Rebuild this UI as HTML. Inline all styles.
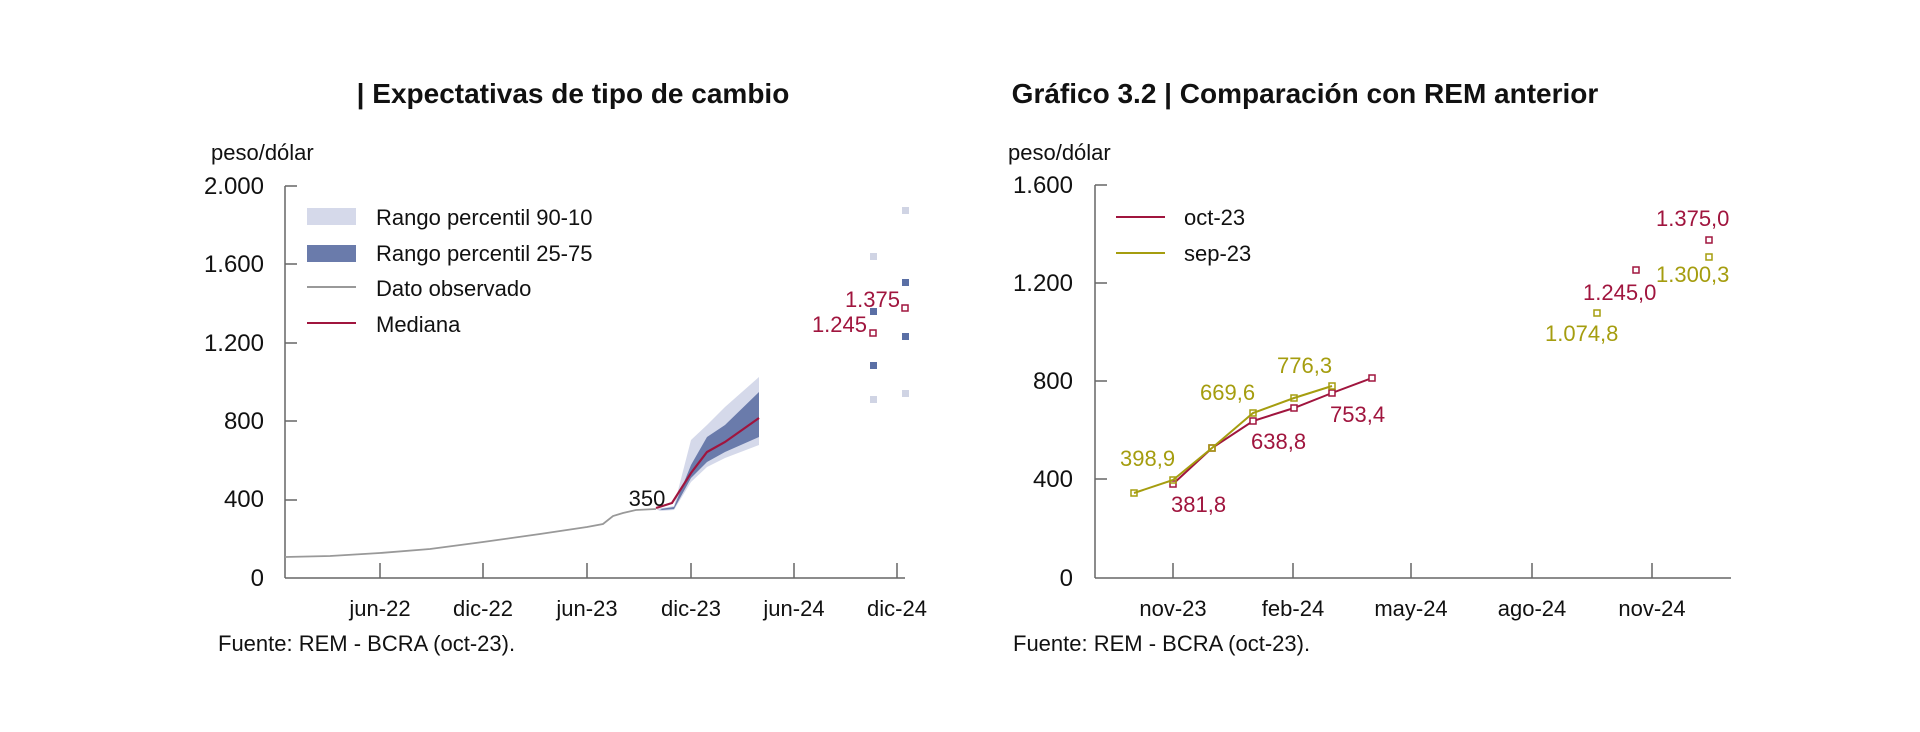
<!DOCTYPE html>
<html><head><meta charset="utf-8"><style>
html,body{margin:0;padding:0;background:#fff;}
svg{display:block;font-family:"Liberation Sans Narrow","Liberation Sans",sans-serif;}
</style></head><body>
<svg width="1920" height="732" viewBox="0 0 1920 732" xmlns="http://www.w3.org/2000/svg">
<rect width="1920" height="732" fill="#fff"/>
<!-- Titles -->
<text x="573" y="103" font-size="28" font-weight="bold" text-anchor="middle" fill="#111">| Expectativas de tipo de cambio</text>
<text x="1305" y="103" font-size="28" font-weight="bold" text-anchor="middle" fill="#111">Gráfico 3.2 | Comparación con REM anterior</text>

<!-- LEFT CHART -->
<text x="211" y="160" font-size="22" fill="#111">peso/dólar</text>
<g font-size="24" fill="#111" text-anchor="end">
<text x="264" y="194">2.000</text>
<text x="264" y="272">1.600</text>
<text x="264" y="351">1.200</text>
<text x="264" y="429">800</text>
<text x="264" y="507">400</text>
<text x="264" y="586">0</text>
</g>
<g stroke="#666" stroke-width="1.5" fill="none">
<line x1="285" y1="186" x2="285" y2="578"/>
<line x1="285" y1="578" x2="905" y2="578"/>
<line x1="285" y1="186" x2="297" y2="186"/>
<line x1="285" y1="264" x2="297" y2="264"/>
<line x1="285" y1="343" x2="297" y2="343"/>
<line x1="285" y1="421" x2="297" y2="421"/>
<line x1="285" y1="500" x2="297" y2="500"/>
<line x1="380" y1="563" x2="380" y2="578"/>
<line x1="483" y1="563" x2="483" y2="578"/>
<line x1="587" y1="563" x2="587" y2="578"/>
<line x1="691" y1="563" x2="691" y2="578"/>
<line x1="794" y1="563" x2="794" y2="578"/>
<line x1="897" y1="563" x2="897" y2="578"/>
</g>
<g font-size="22" fill="#111" text-anchor="middle">
<text x="380" y="616">jun-22</text>
<text x="483" y="616">dic-22</text>
<text x="587" y="616">jun-23</text>
<text x="691" y="616">dic-23</text>
<text x="794" y="616">jun-24</text>
<text x="897" y="616">dic-24</text>
</g>
<text x="218" y="651" font-size="22" fill="#111">Fuente: REM - BCRA (oct-23).</text>

<!-- legend -->
<rect x="307" y="208" width="49" height="17" fill="#d5d9ea"/>
<rect x="307" y="245" width="49" height="17" fill="#6a7bab"/>
<line x1="307" y1="287" x2="356" y2="287" stroke="#999" stroke-width="2"/>
<line x1="307" y1="323" x2="356" y2="323" stroke="#a0153e" stroke-width="2"/>
<g font-size="22" fill="#111">
<text x="376" y="225">Rango percentil 90-10</text>
<text x="376" y="261">Rango percentil 25-75</text>
<text x="376" y="296">Dato observado</text>
<text x="376" y="332">Mediana</text>
</g>

<!-- bands -->
<polygon points="656,509 674,506 691,440 707,425 725,407 759,377 759,445 725,458 707,467 691,482 674,510 660,511" fill="#d5d9ea"/>
<polygon points="660,509 674,507 691,465 707,437 725,425 759,392 759,437 725,452 707,462 691,478 674,509 662,510" fill="#6a7bab"/>
<polyline points="285,557 330,556 380,553 430,549 483,542 540,534 587,527 603,524 613,516 623,513 636,510 656,509" fill="none" stroke="#999" stroke-width="1.8"/>
<polyline points="656,508 672,503 691,473 707,452 725,442 759,418" fill="none" stroke="#a0153e" stroke-width="2.2"/>
<text x="647" y="506" font-size="22" text-anchor="middle" fill="#111">350</text>

<!-- right-side points -->
<g fill="#d0d4e4">
<rect x="870" y="253" width="7" height="7"/>
<rect x="870" y="396" width="7" height="7"/>
<rect x="902" y="207" width="7" height="7"/>
<rect x="902" y="390" width="7" height="7"/>
</g>
<g fill="#5a6fa5">
<rect x="870" y="308" width="7" height="7"/>
<rect x="870" y="362" width="7" height="7"/>
<rect x="902" y="279" width="7" height="7"/>
<rect x="902" y="333" width="7" height="7"/>
</g>
<g fill="#fff" stroke="#a0153e" stroke-width="1.5">
<rect x="870" y="330" width="6" height="6"/>
<rect x="902" y="305" width="6" height="6"/>
</g>
<g font-size="22" fill="#a0153e" text-anchor="end">
<text x="900" y="307">1.375</text>
<text x="867" y="332">1.245</text>
</g>

<!-- RIGHT CHART -->
<text x="1008" y="160" font-size="22" fill="#111">peso/dólar</text>
<g font-size="24" fill="#111" text-anchor="end">
<text x="1073" y="193">1.600</text>
<text x="1073" y="291">1.200</text>
<text x="1073" y="389">800</text>
<text x="1073" y="487">400</text>
<text x="1073" y="586">0</text>
</g>
<g stroke="#666" stroke-width="1.5" fill="none">
<line x1="1095" y1="185" x2="1095" y2="578"/>
<line x1="1095" y1="578" x2="1731" y2="578"/>
<line x1="1095" y1="185" x2="1107" y2="185"/>
<line x1="1095" y1="283" x2="1107" y2="283"/>
<line x1="1095" y1="381" x2="1107" y2="381"/>
<line x1="1095" y1="479" x2="1107" y2="479"/>
<line x1="1173" y1="563" x2="1173" y2="578"/>
<line x1="1293" y1="563" x2="1293" y2="578"/>
<line x1="1411" y1="563" x2="1411" y2="578"/>
<line x1="1532" y1="563" x2="1532" y2="578"/>
<line x1="1652" y1="563" x2="1652" y2="578"/>
</g>
<g font-size="22" fill="#111" text-anchor="middle">
<text x="1173" y="616">nov-23</text>
<text x="1293" y="616">feb-24</text>
<text x="1411" y="616">may-24</text>
<text x="1532" y="616">ago-24</text>
<text x="1652" y="616">nov-24</text>
</g>
<text x="1013" y="651" font-size="22" fill="#111">Fuente: REM - BCRA (oct-23).</text>

<!-- legend -->
<line x1="1116" y1="217" x2="1165" y2="217" stroke="#a0153e" stroke-width="2"/>
<line x1="1116" y1="253" x2="1165" y2="253" stroke="#a59d0f" stroke-width="2"/>
<g font-size="22" fill="#111">
<text x="1184" y="225">oct-23</text>
<text x="1184" y="261">sep-23</text>
</g>

<!-- oct-23 series -->
<polyline points="1173,484 1212,448 1253,421 1294,408 1332,393 1372,378" fill="none" stroke="#a0153e" stroke-width="2"/>
<g fill="#fff" stroke="#a0153e" stroke-width="1.5">
<rect x="1170" y="481" width="6" height="6"/>
<rect x="1209" y="445" width="6" height="6"/>
<rect x="1250" y="418" width="6" height="6"/>
<rect x="1291" y="405" width="6" height="6"/>
<rect x="1329" y="390" width="6" height="6"/>
<rect x="1369" y="375" width="6" height="6"/>
<rect x="1633" y="267" width="6" height="6"/>
<rect x="1706" y="237" width="6" height="6"/>
</g>
<!-- sep-23 series -->
<polyline points="1134,493 1173,480 1212,448 1253,413 1294,398 1332,386" fill="none" stroke="#a59d0f" stroke-width="2"/>
<g fill="none" stroke="#a59d0f" stroke-width="1.5">
<rect x="1131" y="490" width="6" height="6"/>
<rect x="1170" y="477" width="6" height="6"/>
<rect x="1209" y="445" width="6" height="6"/>
<rect x="1250" y="410" width="6" height="6"/>
<rect x="1291" y="395" width="6" height="6"/>
<rect x="1329" y="383" width="6" height="6"/>
<rect x="1594" y="310" width="6" height="6"/>
<rect x="1706" y="254" width="6" height="6"/>
</g>
<g font-size="22" fill="#a59d0f">
<text x="1120" y="466">398,9</text>
<text x="1200" y="400">669,6</text>
<text x="1277" y="373">776,3</text>
<text x="1545" y="341">1.074,8</text>
<text x="1656" y="282">1.300,3</text>
</g>
<g font-size="22" fill="#a0153e">
<text x="1171" y="512">381,8</text>
<text x="1251" y="449">638,8</text>
<text x="1330" y="422">753,4</text>
<text x="1583" y="300">1.245,0</text>
<text x="1656" y="226">1.375,0</text>
</g>
</svg>
</body></html>
